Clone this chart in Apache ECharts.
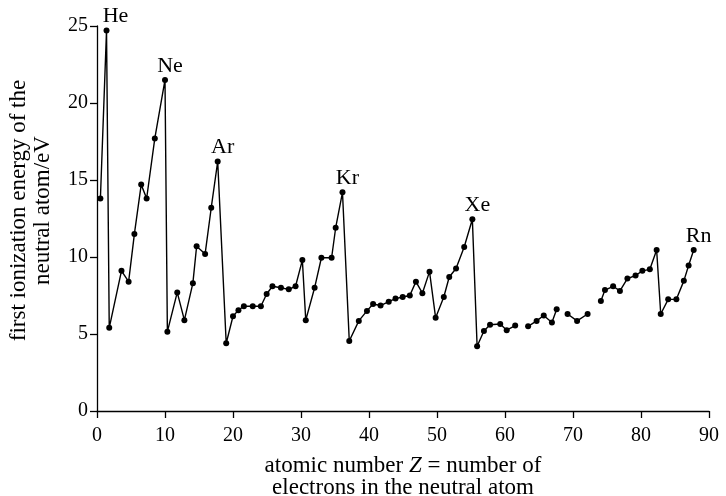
<!DOCTYPE html>
<html>
<head>
<meta charset="utf-8">
<script src="https://cdn.jsdelivr.net/npm/echarts@6/dist/echarts.min.js"></script>
<style>
  html, body { margin: 0; padding: 0; background: #fff; }
  #chart { width: 726px; height: 496px; }
</style>
</head>
<body>
<div id="chart"></div>
<script>
// positions (x as drawn, y in eV); null marks a break in the line
const zPos = [
    0.5, 1.4, 1.8, 3.6, 4.65, 5.5, 6.5, 7.3, 8.5, 10.0,
    10.35, 11.8, 12.85, 14.1, 14.65, 15.9, 16.8, 17.75,
    19.0, 20.0, 20.8, 21.6, 22.9, 24.1, 24.95, 25.8, 27.05, 28.2, 29.2, 30.2,
    30.7, 32.0, 33.0, 34.5, 35.1, 36.1,
    37.1, 38.5, 39.7, 40.6, 41.7, 42.9, 43.9, 44.95, 46.0, 46.9, 47.85, 48.9,
    49.8, 51.0, 51.8, 52.8, 54.0, 55.2,
    55.9, 56.9, 57.8, 59.3, 60.25, 61.5, null,
    63.4, 64.65, 65.7, 66.9, 67.6, null,
    69.2, 70.6, 72.15, null,
    74.1, 74.7, 75.9, 76.9, 78.0, 79.2, 80.2, 81.3, 82.3,
    82.9, 84.0, 85.2, 86.3, 87.0, 87.75
];
const ionEnergy = [
    13.8, 24.7, 5.4, 9.1, 8.4, 11.5, 14.7, 13.8, 17.7, 21.5,
    5.15, 7.7, 5.9, 8.3, 10.7, 10.2, 13.2, 16.2,
    4.4, 6.15, 6.55, 6.8, 6.8, 6.8, 7.6, 8.1, 8.0, 7.9, 8.1, 9.8,
    5.9, 8.0, 9.95, 9.95, 11.9, 14.2,
    4.55, 5.85, 6.5, 6.95, 6.85, 7.1, 7.3, 7.4, 7.5, 8.4, 7.65, 9.05,
    6.05, 7.4, 8.7, 9.25, 10.65, 12.45,
    4.2, 5.2, 5.6, 5.65, 5.25, 5.55, null,
    5.5, 5.85, 6.2, 5.75, 6.6, null,
    6.3, 5.85, 6.3, null,
    7.15, 7.85, 8.1, 7.8, 8.6, 8.8, 9.1, 9.2, 10.45,
    6.3, 7.25, 7.25, 8.45, 9.45, 10.45
];
const peakIndex = [1, 9, 17, 35, 53, 85];
const peakNames = ['He', 'Ne', 'Ar', 'Kr', 'Xe', 'Rn'];
const xTicks = [0, 10, 20, 30, 40, 50, 60, 70, 80, 90];
const yTicks = [0, 5, 10, 15, 20, 25];

const FONT = '"Liberation Serif", "DejaVu Serif", serif';
const INK = '#000';

let points = [];
for (let i = 0; i < zPos.length; i++) {
    if (zPos[i] === null) {
        points.push(['-', '-']);
        continue;
    }
    let item = {value: [zPos[i], ionEnergy[i]]};
    let k = peakIndex.indexOf(i);
    if (k >= 0) {
        item.label = {
            show: true,
            position: 'top',
            distance: 0,
            offset: [k === 0 ? 9 : 5, 0],
            formatter: peakNames[k],
            fontFamily: FONT,
            fontSize: 22,
            color: INK
        };
    }
    points.push(item);
}

const chart = echarts.init(document.getElementById('chart'));

const axisCommon = {
    axisLine: {show: true, lineStyle: {color: INK, width: 1.3}},
    axisTick: {show: true, inside: false, length: 7, lineStyle: {color: INK, width: 1.3}},
    splitLine: {show: false},
    axisLabel: {fontFamily: FONT, fontSize: 20, color: INK}
};

chart.setOption({
    animation: false,
    backgroundColor: '#fff',
    grid: {left: 97, right: 17, top: 26, bottom: 85, outerBoundsMode: 'none', containLabel: false},
    xAxis: Object.assign({}, axisCommon, {
        type: 'value',
        min: xTicks[0],
        max: xTicks[xTicks.length - 1],
        interval: 10,
        axisLabel: Object.assign({}, axisCommon.axisLabel, {margin: 15}),
        name: '{t|atomic number }{i|Z}{t| = number of}\n{t|electrons in the neutral atom}',
        nameLocation: 'middle',
        nameGap: 44,
        nameTextStyle: {
            fontFamily: FONT,
            fontSize: 23,
            color: INK,
            lineHeight: 22,
            rich: {
                t: {fontFamily: FONT, fontSize: 23, color: INK, lineHeight: 22},
                i: {fontFamily: FONT, fontSize: 23, color: INK, fontStyle: 'italic', lineHeight: 22}
            }
        }
    }),
    yAxis: Object.assign({}, axisCommon, {
        type: 'value',
        min: yTicks[0],
        max: yTicks[yTicks.length - 1],
        interval: 5,
        axisLabel: Object.assign({}, axisCommon.axisLabel, {margin: 9}),
        name: 'first ionization energy of the\nneutral atom/eV',
        nameLocation: 'middle',
        nameRotate: 90,
        nameGap: 42,
        nameTextStyle: {fontFamily: FONT, fontSize: 23, color: INK, lineHeight: 24, padding: [0, 0, 0, 16]}
    }),
    series: [{
        type: 'line',
        data: points,
        connectNulls: false,
        symbol: 'circle',
        symbolSize: 6,
        showAllSymbol: true,
        itemStyle: {color: INK},
        lineStyle: {color: INK, width: 1.4},
        emphasis: {disabled: true}
    }]
});
</script>
</body>
</html>
